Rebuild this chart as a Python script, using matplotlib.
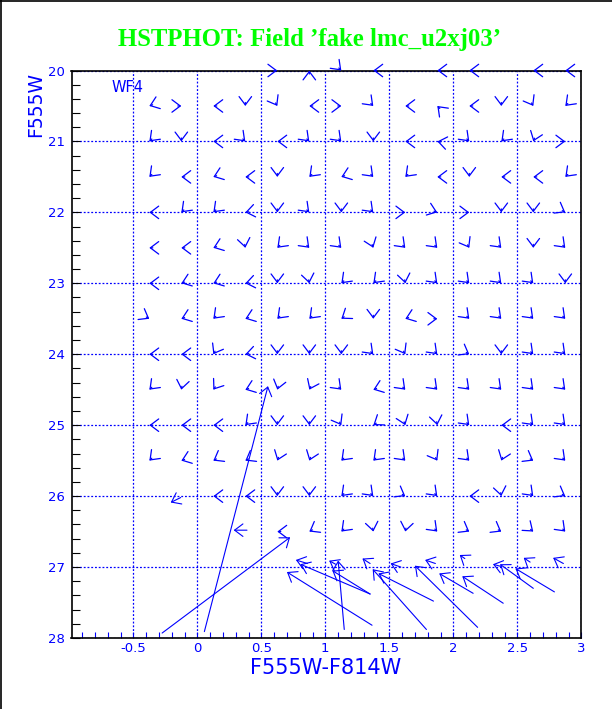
import numpy as np
import matplotlib
matplotlib.use("Agg")
import matplotlib.pyplot as plt
from matplotlib.lines import Line2D

BLUE = "#0000ff"
GREEN = "#00ff00"

# grid of test positions (colour, magnitude)
col_x = [-0.375, -0.125, 0.125, 0.375, 0.625, 0.875, 1.125,
         1.375, 1.625, 1.875, 2.125, 2.375, 2.625, 2.875]
row_y = [20.0, 20.5, 21.0, 21.5, 22.0, 22.5, 23.0,
         23.5, 24.0, 24.5, 25.0, 25.5, 26.0, 26.5]

# direction of each small offset arrow on screen (deg, 0 = right, 90 = up)
N = None
small_angle = [
    [N, N, N, N, 0, 90, 315, 180, N, 180, 180, N, 180, 180],
    [200, 0, 180, 270, 300, 180, 0, 315, 180, 135, 180, 270, 300, 225],
    [225, 270, 180, 315, 180, 315, 315, 270, 180, 170, 315, 225, 250, 0],
    [225, 180, 200, 180, 270, 225, 200, 315, 225, 180, 270, 180, 180, 225],
    [180, 225, 225, 190, 270, 315, 270, 315, 0, 340, 0, 270, 270, 330],
    [180, 180, 200, 280, 225, 315, 315, 290, 315, 315, 300, 315, 270, 315],
    [180, 200, 200, 190, 270, 280, 225, 225, 280, 315, 315, 315, 315, 270],
    [330, 200, 225, 200, 225, 225, 215, 270, 200, 0, 315, 315, 315, 315],
    [180, 180, 240, 190, 270, 270, 270, 315, 300, 315, 330, 270, 315, 315],
    [225, 260, 235, 200, 255, 245, 315, 200, 315, 315, 315, 315, 315, 315],
    [180, 180, 180, 225, 270, 270, 300, 215, 290, 280, 315, 180, 315, 315],
    [225, 200, 210, 210, 250, 250, 225, 225, 315, 300, 315, 250, 330, 315],
    [N, N, 180, 180, 270, 270, 225, 315, 330, 315, 180, 280, 315, 330],
    [N, N, N, N, 180, 210, 225, 280, 260, 315, 330, 330, 320, 315],
]

# longer offsets: start (input) -> end (recovered)
vec_x0 = [0.055, -0.275, 1.365, 1.350, 1.148, 1.350, 1.845, 1.790, 2.190,
          2.155, 2.390, 2.625, 2.790,
          -0.130, 0.388,
          0.86, 1.08, 1.35, 1.59, 1.86, 2.09, 2.37, 2.60, 2.86]
vec_y0 = [27.91, 27.93, 27.82, 27.38, 27.88, 27.38, 27.48, 27.88, 27.85,
          27.37, 27.51, 27.30, 27.35,
          26.02, 26.48,
          26.95, 26.96, 26.95, 27.00, 26.95, 26.88, 26.99, 26.93, 26.95]
vec_x1 = [0.552, 0.725, 0.700, 0.805, 1.100, 1.055, 1.415, 1.370, 1.700,
          1.890, 2.070, 2.365, 2.485,
          -0.208, 0.284,
          0.77, 1.03, 1.29, 1.51, 1.78, 2.05, 2.31, 2.55, 2.78]
vec_y1 = [24.45, 26.58, 27.07, 26.96, 26.91, 27.05, 27.09, 27.03, 26.98,
          27.09, 27.13, 26.96, 27.02,
          26.09, 26.48,
          26.90, 26.91, 26.88, 26.95, 26.90, 26.83, 26.96, 26.87, 26.87]

xticks = [-0.5, 0, 0.5, 1, 1.5, 2, 2.5, 3]
xtick_labels = ["-0.5", "0", "0.5", "1", "1.5", "2", "2.5", "3"]
yticks = [20, 21, 22, 23, 24, 25, 26, 27, 28]

W, H = 612, 709
fig = plt.figure(figsize=(W / 100, H / 100), dpi=100)
ax = fig.add_axes([71.5 / W, 1 - 638 / H, (581.3 - 71.5) / W, (638 - 70.5) / H])

ax.set_xlim(-0.983, 3.0)
ax.set_ylim(28, 20)

ARROW = "->,head_length=0.6,head_width=0.45"

for y, row in zip(row_y, small_angle):
    for x, a in zip(col_x, row):
        if a is None:
            continue
        t = np.deg2rad(a)
        ax.annotate("", xy=(x, y), xytext=(-2.5 * np.cos(t), -2.5 * np.sin(t)),
                    textcoords="offset points",
                    arrowprops=dict(arrowstyle=ARROW, color=BLUE, lw=0.9,
                                    shrinkA=0, shrinkB=0, mutation_scale=10))

for x0, y0, x1, y1 in zip(vec_x0, vec_y0, vec_x1, vec_y1):
    ax.annotate("", xy=(x1, y1), xytext=(x0, y0),
                arrowprops=dict(arrowstyle=ARROW, color=BLUE, lw=0.8,
                                shrinkA=0, shrinkB=0, mutation_scale=10))

ax.set_xticks(xticks)
ax.set_xticklabels(xtick_labels)
ax.set_xticks(np.arange(-0.9, 3.0, 0.1), minor=True)
ax.set_yticks(yticks)
ax.set_yticks(np.arange(20, 28.01, 0.2), minor=True)

ax.grid(True, which="major", color=BLUE, linestyle=(0, (1.5, 1.5)), lw=0.9)
ax.set_axisbelow(True)

ax.tick_params(axis="x", which="both", direction="in", length=4, width=0.8,
               color=BLUE, labelcolor=BLUE, labelsize=9.5, pad=3)
ax.tick_params(axis="y", which="both", direction="in", length=5.8, width=0.8,
               color="black", labelcolor=BLUE, labelsize=9.5, pad=5)
for s in ax.spines.values():
    s.set_color("black")
    s.set_linewidth(1.2)

ax.text(-0.667, 20.14, "WF4", color=BLUE, fontsize=10.5, ha="left", va="top")

fig.text(35.5 / W, 1 - 72 / H, "F555W", rotation=90, color=BLUE,
         fontsize=13.5, ha="center", va="top")
fig.text(326 / W, 1 - 658 / H, "F555W-F814W", color=BLUE,
         fontsize=15, ha="center", va="top")
fig.text(310 / W, 1 - 46 / H, "HSTPHOT: Field \u2019fake lmc_u2xj03\u2019",
         color=GREEN, fontsize=17.8, fontweight="bold", family="Liberation Serif",
         ha="center", va="baseline")

# frame lines on the left and top of the picture
fig.add_artist(Line2D([0.8 / W, 0.8 / W], [0, 1], color="black", lw=1.2))
fig.add_artist(Line2D([0, 1], [1 - 0.8 / H, 1 - 0.8 / H], color="black", lw=1.2))

fig.savefig("out.png", dpi=100)
